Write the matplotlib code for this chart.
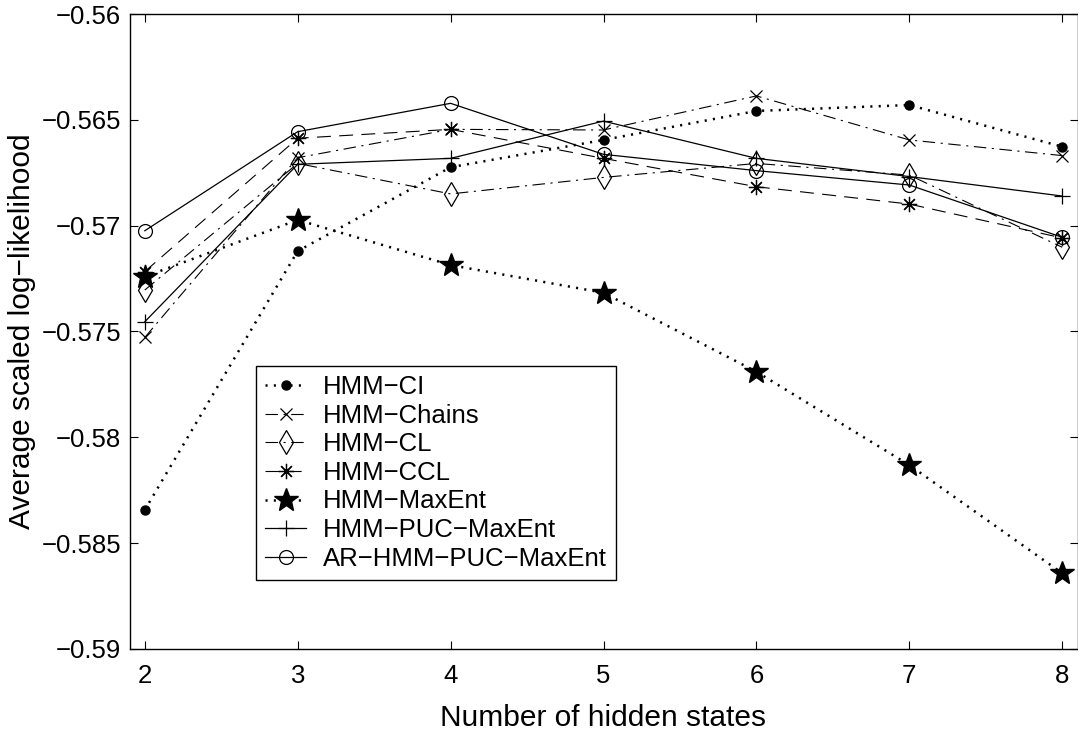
import matplotlib
matplotlib.use("Agg")
import matplotlib.pyplot as plt

plt.rcParams['font.family'] = ['Liberation Sans', 'DejaVu Sans']
plt.rcParams['lines.scale_dashes'] = False

n_states = [2, 3, 4, 5, 6, 7, 8]

hmm_ci = [-0.58343, -0.57120, -0.56724, -0.56595, -0.56458, -0.56430, -0.56627]
hmm_chains = [-0.57528, -0.56679, -0.56545, -0.56548, -0.56387, -0.56595, -0.56669]
hmm_cl = [-0.57304, -0.56706, -0.56850, -0.56772, -0.56706, -0.56761, -0.57102]
hmm_ccl = [-0.57217, -0.56587, -0.56545, -0.56682, -0.56816, -0.56898, -0.57058]
hmm_maxent = [-0.57241, -0.56973, -0.57186, -0.57317, -0.57690, -0.58131, -0.58642]
hmm_puc = [-0.57454, -0.56710, -0.56682, -0.56506, -0.56682, -0.56768, -0.56860]
ar_hmm_puc = [-0.57024, -0.56556, -0.56422, -0.56663, -0.56740, -0.56808, -0.57055]

yticks = [-0.59, -0.585, -0.58, -0.575, -0.57, -0.565, -0.56]
ytick_labels = ['\u22120.59', '\u22120.585', '\u22120.58', '\u22120.575',
                '\u22120.57', '\u22120.565', '\u22120.56']

fig = plt.figure(figsize=(10.78, 7.30), dpi=100)
ax = fig.add_axes([129.5 / 1078, 81 / 730, 948 / 1078, 635 / 730])

dotted = (0, (1.5, 4.5))
dashdot = (0, (9, 4, 1.5, 4))
dashed = (0, (10, 6))

ax.plot(n_states, hmm_ci, color='k', linestyle=dotted, lw=1.8,
        marker='o', markersize=6.5, label='HMM\u2212CI')
ax.plot(n_states, hmm_chains, color='k', linestyle=dashdot, lw=0.8,
        marker='x', markersize=8, markeredgewidth=0.9, label='HMM\u2212Chains')
ax.plot(n_states, hmm_cl, color='k', linestyle=dashdot, lw=0.8,
        marker='d', markersize=12, markerfacecolor='none', markeredgewidth=0.9,
        label='HMM\u2212CL')
ax.plot(n_states, hmm_ccl, color='k', linestyle=dashed, lw=0.8,
        marker=(8, 2, 0), markersize=11, markeredgewidth=0.9, label='HMM\u2212CCL')
ax.plot(n_states, hmm_maxent, color='k', linestyle=dotted, lw=1.8,
        marker='*', markersize=18, label='HMM\u2212MaxEnt')
ax.plot(n_states, hmm_puc, color='k', linestyle='-', lw=0.9,
        marker='+', markersize=11, markeredgewidth=0.9, label='HMM\u2212PUC\u2212MaxEnt')
ax.plot(n_states, ar_hmm_puc, color='k', linestyle='-', lw=0.9,
        marker='o', markersize=10, markerfacecolor='none', markeredgewidth=0.9,
        label='AR\u2212HMM\u2212PUC\u2212MaxEnt')

ax.set_xlim(1.9, 8.1)
ax.set_ylim(-0.59, -0.56)
ax.set_xticks(n_states)
ax.set_yticks(yticks)
ax.set_yticklabels(ytick_labels)

ax.tick_params(direction='in', length=6, width=0.8, labelsize=18.5,
               top=True, right=True)
ax.tick_params(axis='x', pad=11)
ax.tick_params(axis='y', pad=6)
for s in ax.spines.values():
    s.set_linewidth(1.0)

ax.set_xlabel('Number of hidden states', fontsize=21.5, labelpad=11)
ax.set_ylabel('Average scaled log\u2212likelihood', fontsize=21.5, labelpad=4)

leg = ax.legend(loc='upper left', bbox_to_anchor=(256 / 1078, 1 - 366 / 730),
                bbox_transform=fig.transFigure, borderaxespad=0, fontsize=18.5,
                handlelength=1.6, handletextpad=0.65, labelspacing=0.18,
                borderpad=0.35, fancybox=False, framealpha=1, edgecolor='k')
leg.get_frame().set_linewidth(1.0)

fig.savefig('out.png', dpi=100)
